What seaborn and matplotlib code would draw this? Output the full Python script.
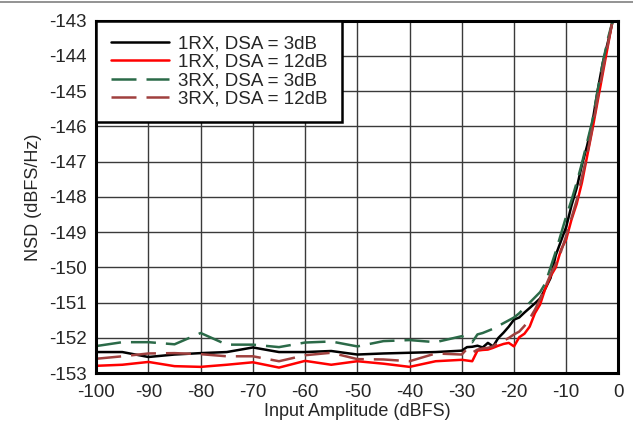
import numpy as np
import pandas as pd
import matplotlib
matplotlib.use("Agg")
import matplotlib.pyplot as plt
import seaborn as sns

# ------------------------
# Data
# ------------------------
x_pts = [-100, -95, -90, -85, -80, -75, -70, -65, -60, -55, -50, -45, -40, -35,
         -30, -29, -28, -27, -26, -25, -24, -23, -22, -21, -20, -19, -18, -17,
         -16, -15, -14, -13, -12, -11, -10, -9, -8, -7, -6, -5, -4, -3, -2, -1]

nsd_1rx_3db = [-152.40, -152.40, -152.54, -152.47, -152.43, -152.40, -152.27, -152.40,
               -152.40, -152.37, -152.47, -152.44, -152.42, -152.40,
               -152.36, -152.26, -152.25, -152.22, -152.27, -152.14, -152.24, -152.00,
               -151.85, -151.68, -151.48, -151.42, -151.28, -151.15, -151.02, -150.88,
               -150.60, -150.30, -149.65, -149.25, -148.85, -148.25, -147.75, -147.10,
               -146.55, -145.90, -145.00, -144.20, -143.60, -142.95]

nsd_1rx_12db = [-152.79, -152.76, -152.68, -152.80, -152.82, -152.76, -152.69, -152.84,
                -152.65, -152.76, -152.66, -152.73, -152.82, -152.66,
                -152.62, -152.64, -152.66, -152.36, -152.34, -152.33, -152.28, -152.22,
                -152.17, -152.14, -152.24, -151.98, -151.88, -151.68, -151.30, -151.05,
                -150.60, -150.25, -150.00, -149.50, -149.20, -148.65, -148.20, -147.60,
                -146.85, -146.10, -145.30, -144.50, -143.70, -142.90]

nsd_3rx_3db = [-152.23, -152.12, -152.12, -152.18, -151.86, -152.19, -152.19, -152.26,
               -152.13, -152.10, -152.24, -152.09, -152.06, -152.12,
               -151.95, -152.02, -152.12, -151.90, -151.86, -151.80, -151.74, -151.66,
               -151.58, -151.50, -151.42, -151.30, -151.15, -151.00, -150.85, -150.70,
               -150.45, -150.00, -149.55, -149.05, -148.55, -148.10, -147.60, -147.05,
               -146.45, -145.85, -145.00, -144.20, -143.50, -142.95]

nsd_3rx_12db = [-152.59, -152.52, -152.44, -152.43, -152.46, -152.52, -152.52, -152.66,
                -152.49, -152.42, -152.60, -152.61, -152.66, -152.44,
                -152.47, -152.31, -152.42, -152.33, -152.30, -152.28, -152.24, -152.12,
                -152.08, -152.00, -151.90, -151.82, -151.66, -151.45, -151.20, -150.90,
                -150.55, -150.20, -149.90, -149.55, -149.10, -148.60, -148.10, -147.45,
                -146.80, -146.05, -145.20, -144.40, -143.65, -142.90]

labels = ["1RX, DSA = 3dB", "1RX, DSA = 12dB", "3RX, DSA = 3dB", "3RX, DSA = 12dB"]
x_ticks = [-100, -90, -80, -70, -60, -50, -40, -30, -20, -10, 0]
y_ticks = [-153, -152, -151, -150, -149, -148, -147, -146, -145, -144, -143]

# ------------------------
# Long-form table for seaborn
# ------------------------
frames = []
for lab, vals in zip(labels, [nsd_1rx_3db, nsd_1rx_12db, nsd_3rx_3db, nsd_3rx_12db]):
    frames.append(pd.DataFrame({"x": x_pts, "nsd": vals, "series": lab}))
df = pd.concat(frames, ignore_index=True)

palette = {labels[0]: "#000000", labels[1]: "#ff0000",
           labels[2]: "#2b6a48", labels[3]: "#a0403e"}
dashes = {labels[0]: "", labels[1]: "",
          labels[2]: (10, 4), labels[3]: (10, 4)}

# ------------------------
# Plot
# ------------------------
sns.set_style("white")
plt.rcParams["font.family"] = ["Liberation Sans", "DejaVu Sans"]
plt.rcParams["axes.unicode_minus"] = False

fig = plt.figure(figsize=(6.33, 4.28), dpi=100)
ax = fig.add_axes([0.152, 0.128, 0.825, 0.824])

sns.lineplot(data=df, x="x", y="nsd", hue="series", style="series",
             palette=palette, dashes=dashes, linewidth=1.8,
             estimator=None, sort=False, ax=ax, legend=True)

ax.set_xlim(-100, 0)
ax.set_ylim(-153, -143)
ax.set_xticks(x_ticks)
ax.set_yticks(y_ticks)
ax.tick_params(axis="both", labelsize=13.5, length=0)
ax.tick_params(axis="x", pad=8)
ax.tick_params(axis="y", pad=7)
ax.grid(True, color="#3a3a3a", linewidth=1.0)
ax.set_axisbelow(True)
for sp in ax.spines.values():
    sp.set_color("black")
    sp.set_linewidth(2.2)

ax.set_xlabel("Input Amplitude (dBFS)", fontsize=13, labelpad=1.5)
ax.set_ylabel("NSD (dBFS/Hz)", fontsize=13, labelpad=5)

handles, _ = ax.get_legend_handles_labels()
leg = ax.legend(handles=handles, labels=labels, loc="upper left",
                bbox_to_anchor=(0, 1), borderaxespad=0, fontsize=13.5,
                frameon=True, fancybox=False, framealpha=1, edgecolor="black",
                handlelength=3.1, handletextpad=0.45, labelspacing=0.06,
                borderpad=0.8)
leg.get_frame().set_linewidth(1.8)

# thin rule along the top of the figure
fig.add_artist(plt.Line2D([0, 1], [0.996, 0.996], color="#808080", linewidth=1.2))

plt.savefig("out.png", dpi=100)
plt.close()
